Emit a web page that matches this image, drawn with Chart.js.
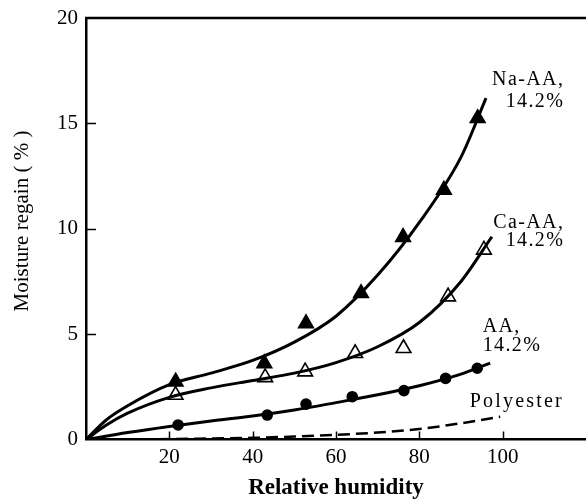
<!DOCTYPE html>
<html>
<head>
<meta charset="utf-8">
<script src="https://cdn.jsdelivr.net/npm/chart.js@4.4.1/dist/chart.umd.min.js"></script>
<style>
  html, body { margin: 0; padding: 0; background: #fff; }
  canvas { display: block; }
</style>
</head>
<body>
<canvas id="chart" width="586" height="504"></canvas>
<script>
// Measured moisture regain (%) against relative humidity (%)
const naRh      = [21.5, 42.8, 52.8, 66.0, 76.1, 85.9, 94.0];
const naRegain  = [2.74, 3.61, 5.51, 6.94, 9.6, 11.84, 15.24];
const caRh      = [21.5, 43.0, 52.6, 64.6, 76.2, 86.9, 95.5];
const caRegain  = [2.11, 2.95, 3.22, 4.09, 4.33, 6.78, 9.0];
const aaRh      = [22.1, 43.5, 52.8, 63.9, 76.3, 86.3, 93.9];
const aaRegain  = [0.69, 1.16, 1.68, 2.03, 2.32, 2.9, 3.38];

// Smoothed sorption curves
const naFitRh   = [0, 5, 10, 20, 30, 40, 50, 60, 70, 80, 90, 96];
const naFit     = [0, 0.95, 1.6, 2.6, 3.15, 3.75, 4.62, 5.85, 7.8, 10.3, 13.4, 16.2];
const caFitRh   = [0, 5, 10, 20, 30, 40, 50, 60, 70, 80, 90, 97.4];
const caFit     = [0, 0.7, 1.25, 2.0, 2.45, 2.8, 3.15, 3.65, 4.4, 5.55, 7.5, 9.62];
const aaFitRh   = [0, 10, 20, 30, 40, 50, 60, 70, 80, 90, 97];
const aaFit     = [0, 0.33, 0.62, 0.88, 1.12, 1.4, 1.75, 2.12, 2.55, 3.1, 3.62];
const pesRh     = [0, 10, 20, 30, 40, 50, 60, 70, 80, 90, 99.4];
const pesFit    = [0, 0, 0.02, 0.05, 0.08, 0.14, 0.22, 0.33, 0.5, 0.77, 1.08];

// Axis ticks
const xTickValues = [20, 40, 60, 80, 100];
const yTickValues = [0, 5, 10, 15, 20];

// Curve captions
const captions = [
  { lines: ['Na-AA,', '14.2%'], x: 114.8, y: [17.06, 16.03], align: 'right', spacing: 1.4 },
  { lines: ['Ca-AA,', '14.2%'], x: 114.8, y: [10.3, 9.45],   align: 'right', spacing: 1.4 },
  { lines: ['AA,', '14.2%'],    x: 95.2,  y: [5.34, 4.44],   align: 'left',  spacing: 1.4 },
  { lines: ['Polyester'],       x: 92.1,  y: [1.78],         align: 'left',  spacing: 2.2 }
];
const yTitle = 'Moisture regain ( % )';

const FONT = "'Liberation Serif', 'Times New Roman', serif";
const pts = (xs, ys) => xs.map((v, i) => ({ x: v, y: ys[i] }));

const curve = (data, dash) => ({
  type: 'line',
  data,
  borderColor: '#000',
  borderWidth: dash ? 2.5 : 3,
  borderDash: dash ? [12, 6] : [],
  pointRadius: 0,
  fill: false,
  cubicInterpolationMode: 'monotone'
});

const markers = (data, style, radius, fill) => ({
  type: 'scatter',
  data,
  showLine: false,
  pointStyle: style,
  pointRadius: radius,
  pointHoverRadius: radius,
  pointBackgroundColor: fill,
  pointBorderColor: '#000',
  pointBorderWidth: 1.6
});

const frame = {
  id: 'frame',
  afterDraw(chart) {
    const { ctx, chartArea: a, scales: { x, y } } = chart;
    ctx.save();
    ctx.strokeStyle = '#000';
    ctx.lineWidth = 2.5;
    ctx.beginPath();
    ctx.moveTo(a.left - 1, a.top);
    ctx.lineTo(a.right, a.top);
    ctx.stroke();
    ctx.lineWidth = 1.5;
    ctx.beginPath();
    x.ticks.forEach(t => {
      const px = Math.round(x.getPixelForValue(t.value)) + 0.5;
      ctx.moveTo(px, a.bottom);
      ctx.lineTo(px, a.bottom - 8);
    });
    y.ticks.forEach(t => {
      if (t.value <= 0 || t.value >= 20) return;
      const py = Math.round(y.getPixelForValue(t.value)) + 0.5;
      ctx.moveTo(a.left, py);
      ctx.lineTo(a.left + 10, py);
    });
    ctx.stroke();

    ctx.fillStyle = '#000';
    ctx.textBaseline = 'middle';
    ctx.font = '20px ' + FONT;
    captions.forEach(c => {
      ctx.textAlign = c.align;
      ctx.letterSpacing = c.spacing + 'px';
      c.lines.forEach((s, i) => {
        ctx.fillText(s, x.getPixelForValue(c.x), y.getPixelForValue(c.y[i]));
      });
    });
    ctx.letterSpacing = '0px';

    // vertical axis title
    ctx.save();
    ctx.translate(22, 221);
    ctx.rotate(-Math.PI / 2);
    ctx.textAlign = 'center';
    ctx.font = '21px ' + FONT;
    ctx.fillText(yTitle, 0, 0);
    ctx.restore();
    ctx.restore();
  }
};

new Chart(document.getElementById('chart'), {
  data: {
    datasets: [
      curve(pts(naFitRh, naFit)),
      curve(pts(caFitRh, caFit)),
      curve(pts(aaFitRh, aaFit)),
      curve(pts(pesRh, pesFit), true),
      markers(pts(naRh, naRegain), 'triangle', 8.5, '#000'),
      markers(pts(caRh, caRegain), 'triangle', 8.5, '#fff'),
      markers(pts(aaRh, aaRegain), 'circle', 5, '#000')
    ]
  },
  options: {
    responsive: false,
    devicePixelRatio: 1,
    animation: false,
    layout: { autoPadding: false, padding: { top: 18, right: 0, left: 0, bottom: 0 } },
    plugins: { legend: { display: false }, tooltip: { enabled: false } },
    scales: {
      x: {
        type: 'linear',
        min: 0,
        max: 120,
        afterBuildTicks: s => { s.ticks = xTickValues.map(v => ({ value: v })); },
        afterFit: s => { s.height = 64.5; s.paddingLeft = 0; s.paddingRight = 0; },
        ticks: { color: '#000', font: { family: FONT, size: 21 }, padding: 5, maxRotation: 0 },
        grid: { display: true, drawOnChartArea: false, drawTicks: false },
        border: { display: true, color: '#000', width: 2.5 },
        title: {
          display: true,
          text: 'Relative humidity',
          color: '#000',
          font: { family: FONT, size: 23, weight: 'bold' },
          padding: { top: 0, bottom: 2 }
        }
      },
      y: {
        type: 'linear',
        min: 0,
        max: 20,
        afterBuildTicks: s => { s.ticks = yTickValues.map(v => ({ value: v })); },
        afterFit: s => { s.width = 86; s.paddingTop = 0; s.paddingBottom = 0; },
        ticks: { color: '#000', font: { family: FONT, size: 21 }, padding: 8 },
        grid: { display: true, drawOnChartArea: false, drawTicks: false },
        border: { display: true, color: '#000', width: 2.5 }
      }
    }
  },
  plugins: [frame]
});
</script>
</body>
</html>
